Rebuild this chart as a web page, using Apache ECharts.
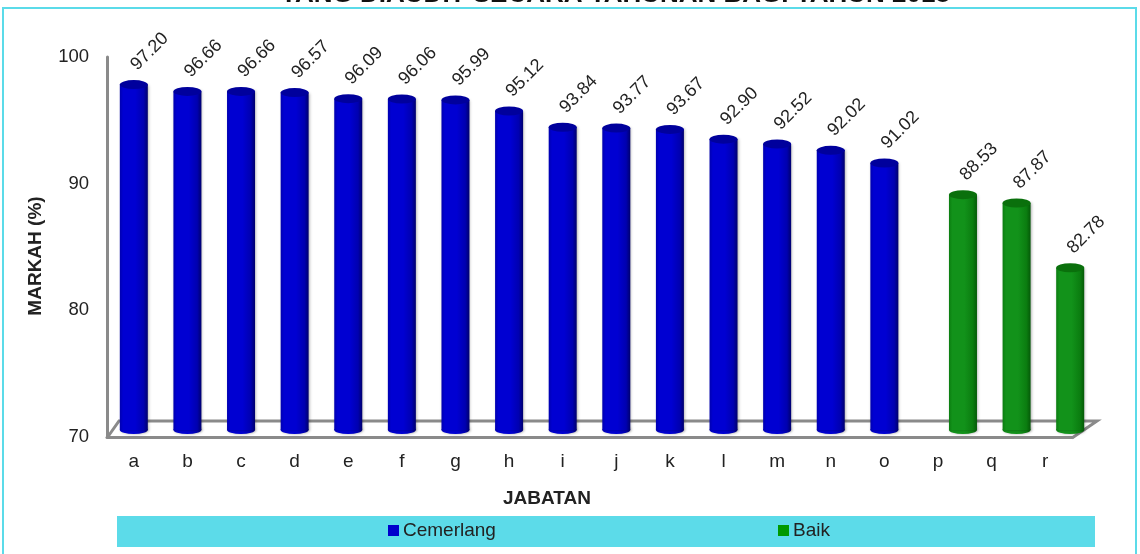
<!DOCTYPE html>
<html>
<head>
<meta charset="utf-8">
<title>Markah Jabatan</title>
<script src="https://cdn.jsdelivr.net/npm/echarts@6/dist/echarts.min.js"></script>
<style>
  html, body { margin: 0; padding: 0; background: #fff; }
  #chart { width: 1140px; height: 554px; }
</style>
</head>
<body>
<div id="chart"></div>
<script>
// data
var categories = ['a','b','c','d','e','f','g','h','i','j','k','l','m','n','o','p','q','r'];
var cemerlang = [97.20, 96.66, 96.66, 96.57, 96.09, 96.06, 95.99, 95.12, 93.84, 93.77, 93.67, 92.90, 92.52, 92.02, 91.02, null, null, null];
var baik = [null, null, null, null, null, null, null, null, null, null, null, null, null, null, null, 88.53, 87.87, 82.78];
var yTicks = [70, 80, 90, 100];

var FONT = '"Liberation Sans", Arial, sans-serif';
var chart = echarts.init(document.getElementById('chart'));

// cylinder body shading, left to right
function bodyGrad(c0, c1, c2) {
  return new echarts.graphic.LinearGradient(0, 0, 1, 0, [
    { offset: 0, color: c1 },
    { offset: 0.12, color: c0 },
    { offset: 0.55, color: c0 },
    { offset: 0.85, color: c1 },
    { offset: 1, color: c2 }
  ]);
}

// hidden axes for the bar grids
function hiddenX(idx) {
  return { type: 'category', gridIndex: idx, data: categories, show: false };
}
function hiddenY(idx) {
  return { type: 'value', gridIndex: idx, min: 70, max: 100, show: false };
}

var shadow = { shadowColor: 'rgba(0,0,0,0.35)', shadowBlur: 3, shadowOffsetX: 1 };

function cylinder(name, data, grid, cols, cap) {
  // bottom ellipse sits on the base value of each drawn bar
  var bases = [];
  data.forEach(function (v, i) {
    if (v != null) bases.push([categories[i], yTicks[0]]);
  });
  return [
    {
      name: name,
      type: 'bar',
      xAxisIndex: grid, yAxisIndex: grid,
      data: data,
      barWidth: 28,
      z: 3,
      itemStyle: Object.assign({ color: bodyGrad(cols[0], cols[1], cols[2]) }, shadow),
      label: {
        show: true,
        position: 'top',
        distance: 17,
        rotate: 45,
        align: 'left',
        verticalAlign: 'middle',
        color: '#222',
        fontFamily: FONT,
        fontSize: 18,
        formatter: function (p) { return p.value.toFixed(2); }
      }
    },
    {
      name: name,
      type: 'pictorialBar',
      xAxisIndex: grid, yAxisIndex: grid,
      data: data,
      symbol: 'circle',
      symbolSize: [28, 9],
      symbolPosition: 'end',
      symbolOffset: [0, '-50%'],
      z: 4,
      itemStyle: { color: cap },
      silent: true
    },
    {
      name: name,
      type: 'scatter',
      xAxisIndex: grid, yAxisIndex: grid,
      data: bases,
      symbol: 'circle',
      symbolSize: [28, 8],
      clip: false,
      z: 2,
      itemStyle: Object.assign({ color: bodyGrad(cols[0], cols[1], cols[2]), opacity: 1 }, shadow),
      silent: true
    }
  ];
}

var option = {
  backgroundColor: '#fff',
  animation: false,
  color: ['#0000cc', '#009900'],
  title: {
    text: 'YANG DIAUDIT SECARA TAHUNAN BAGI TAHUN 2018',
    left: 615,
    textAlign: 'center',
    top: -18,
    padding: 0,
    textStyle: { fontFamily: FONT, fontWeight: 'bold', fontSize: 26, color: '#111' }
  },
  legend: [
    {
      data: [{ name: 'Cemerlang', icon: 'rect', itemStyle: { color: '#0000cc' } }],
      left: 388, top: 521, padding: 0,
      itemWidth: 11, itemHeight: 11,
      selectedMode: false,
      textStyle: { fontFamily: FONT, fontSize: 19, color: '#222', padding: [0, 0, 0, -1] }
    },
    {
      data: [{ name: 'Baik', icon: 'rect', itemStyle: { color: '#009900' } }],
      left: 778, top: 521, padding: 0,
      itemWidth: 11, itemHeight: 11,
      selectedMode: false,
      textStyle: { fontFamily: FONT, fontSize: 19, color: '#222', padding: [0, 0, 0, -1] }
    }
  ],
  graphic: [
    // outer frame
    { type: 'rect', z: -10, shape: { x: 3, y: 8, width: 1133, height: 570 },
      style: { fill: null, stroke: '#5bdbe9', lineWidth: 2 } },
    // legend band
    { type: 'rect', z: -5, shape: { x: 117, y: 516, width: 978, height: 31 },
      style: { fill: '#5cdbe9' } },
    // 3d floor back edge
    { type: 'polyline', z: 1, shape: { points: [[107, 438], [119, 421], [1097, 421], [1072, 438]] },
      style: { fill: null, stroke: '#8a8a8a', lineWidth: 3 } }
  ],
  grid: [
    { left: 107, right: 68, top: 57, bottom: 117 },
    { left: 107, right: 68, top: 49, bottom: 124 },
    { left: 132, right: 43, top: 49, bottom: 124 }
  ],
  xAxis: [
    {
      type: 'category',
      gridIndex: 0,
      data: categories,
      name: 'JABATAN',
      nameLocation: 'middle',
      nameGap: 52,
      nameTextStyle: { fontFamily: FONT, fontWeight: 'bold', fontSize: 19, color: '#222', padding: [0, 85, 0, 0] },
      axisLine: { lineStyle: { color: '#8a8a8a', width: 3 } },
      axisTick: { show: false },
      axisLabel: { margin: 15, fontFamily: FONT, fontSize: 19, color: '#222' }
    },
    hiddenX(1),
    hiddenX(2)
  ],
  yAxis: [
    {
      type: 'value',
      gridIndex: 0,
      min: yTicks[0],
      max: yTicks[yTicks.length - 1],
      interval: 10,
      name: 'MARKAH (%)',
      nameLocation: 'middle',
      nameGap: 62,
      nameTextStyle: { fontFamily: FONT, fontWeight: 'bold', fontSize: 19, color: '#222', padding: [0, 18, 0, 0] },
      axisLine: { show: true, lineStyle: { color: '#8a8a8a', width: 3 } },
      axisTick: { show: false },
      splitLine: { show: false },
      axisLabel: { margin: 18, fontFamily: FONT, fontSize: 18.5, color: '#222' }
    },
    hiddenY(1),
    hiddenY(2)
  ],
  series: [].concat(
    cylinder('Cemerlang', cemerlang, 1, ['#0000d2', '#0000b0', '#00006e'], '#00009c'),
    cylinder('Baik', baik, 2, ['#12921a', '#0b7d10', '#055a08'], '#0a700c')
  )
};

chart.setOption(option);
</script>
</body>
</html>
